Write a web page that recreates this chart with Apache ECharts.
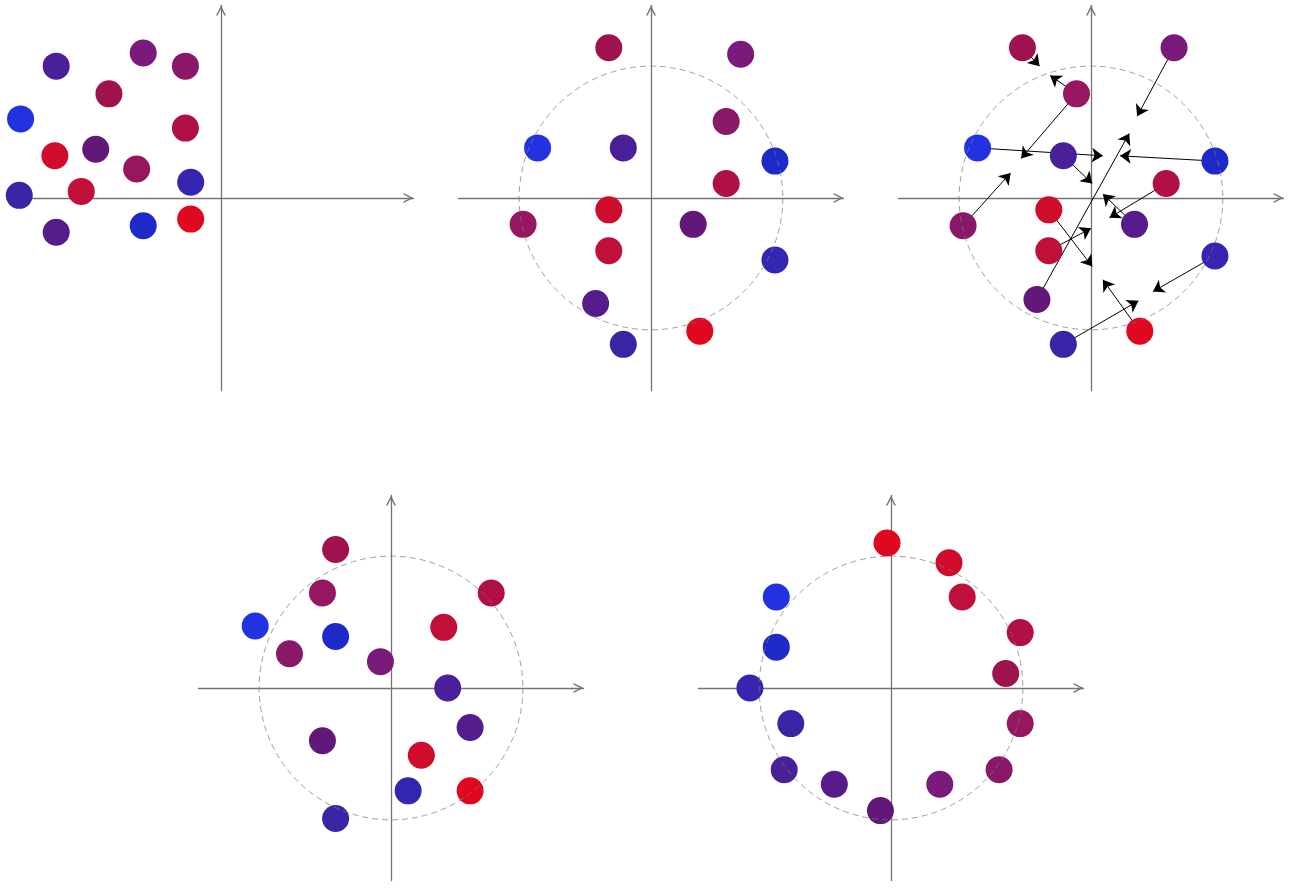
<!DOCTYPE html>
<html>
<head>
<meta charset="utf-8">
<title>points</title>
<script src="https://cdn.jsdelivr.net/npm/echarts@6/dist/echarts.min.js"></script>
<style>
  html, body { margin: 0; padding: 0; background: #fff; }
  #main { width: 1292px; height: 889px; }
</style>
</head>
<body>
<div id="main"></div>
<script>
// 每个点: [x, y, 颜色序号 0(蓝) ~ 14(红)]
var panel1 = [
  [-1.52, 0.60, 0], [-0.59, -0.21, 1], [-0.23, 0.12, 2], [-1.53, 0.02, 3],
  [-1.25, 1.00, 4], [-1.25, -0.26, 5], [-0.95, 0.37, 6], [-0.59, 1.10, 7],
  [-0.27, 1.00, 8], [-0.64, 0.22, 9], [-0.85, 0.79, 10], [-0.27, 0.53, 11],
  [-1.06, 0.05, 12], [-1.26, 0.32, 13], [-0.23, -0.16, 14]
];
var panel2 = [
  [-0.86, 0.38, 0], [0.94, 0.28, 1], [0.94, -0.47, 2], [-0.21, -1.11, 3],
  [-0.21, 0.38, 4], [-0.42, -0.80, 5], [0.32, -0.20, 6], [0.68, 1.09, 7],
  [0.57, 0.58, 8], [-0.97, -0.20, 9], [-0.32, 1.14, 10], [0.57, 0.11, 11],
  [-0.32, -0.40, 12], [-0.32, -0.09, 13], [0.37, -1.01, 14]
];
var panel3 = [
  [-0.86, 0.38, 0], [0.94, 0.28, 1], [0.94, -0.44, 2], [-0.21, -1.11, 3],
  [-0.21, 0.32, 4], [0.33, -0.20, 5], [-0.41, -0.77, 6], [0.63, 1.14, 7],
  [-0.97, -0.21, 8], [-0.11, 0.79, 9], [-0.52, 1.14, 10], [0.57, 0.11, 11],
  [-0.32, -0.40, 12], [-0.32, -0.09, 13], [0.37, -1.01, 14]
];
var panel4 = [
  [-1.03, 0.47, 0], [-0.42, 0.39, 1], [0.13, -0.78, 2], [-0.42, -0.99, 3],
  [0.43, 0.00, 4], [0.60, -0.30, 5], [-0.52, -0.40, 6], [-0.08, 0.20, 7],
  [-0.77, 0.26, 8], [-0.52, 0.72, 9], [-0.42, 1.05, 10], [0.76, 0.72, 11],
  [0.40, 0.46, 12], [0.23, -0.51, 13], [0.60, -0.78, 14]
];
var panel5 = [
  [-0.87, 0.69, 0], [-0.87, 0.31, 1], [-1.07, 0.00, 2], [-0.76, -0.27, 3],
  [-0.81, -0.62, 4], [-0.43, -0.73, 5], [-0.08, -0.93, 6], [0.37, -0.73, 7],
  [0.82, -0.62, 8], [0.98, -0.27, 9], [0.87, 0.11, 10], [0.98, 0.42, 11],
  [0.54, 0.69, 12], [0.44, 0.95, 13], [-0.03, 1.10, 14]
];
// 第三幅图里的箭头: [起点, 终点]
var arrows3 = [
  [[-0.52, 1.14], [-0.39, 1.00]],
  [[-0.11, 0.79], [-0.31, 0.93]],
  [[-0.11, 0.79], [-0.53, 0.30]],
  [[-0.97, -0.21], [-0.61, 0.19]],
  [[0.63, 1.14], [0.35, 0.62]],
  [[-0.41, -0.77], [0.29, 0.49]],
  [[-0.86, 0.38], [0.09, 0.32]],
  [[0.94, 0.28], [0.22, 0.32]],
  [[-0.21, 0.32], [0.01, 0.11]],
  [[0.33, -0.20], [0.09, 0.03]],
  [[0.57, 0.11], [0.14, -0.15]],
  [[-0.32, -0.40], [0.00, -0.23]],
  [[-0.32, -0.09], [0.01, -0.52]],
  [[0.37, -1.01], [0.09, -0.62]],
  [[0.94, -0.44], [0.47, -0.71]],
  [[-0.21, -1.11], [0.36, -0.78]]
];
// 虚线圆: [圆心x, 圆心y, 半径]
var unitCircle = [[0, 0, 1]];
var axisRange = 1.46;

// 颜色从蓝到红
var palette = ['#2232e0', '#1e2ac8', '#3426b0', '#3c24a6', '#4a2098', '#561c8c', '#621878',
  '#7a1a7a', '#8a1868', '#961660', '#a0124e', '#b01044', '#c00f38', '#d00c2c', '#e00820'];

(function () {
  var myChart = echarts.init(document.getElementById('main'));
  var panels = [panel1, panel2, panel3, panel4, panel5];
  var gridPos = [[28.5, 5.5], [458.5, 5.5], [898.5, 5.5], [198.5, 495.5], [698.5, 495.5]];
  // 开口箭头 >
  var chevron = 'path://M0,10 L5,0 L10,10 L8.4,10 L5,3.2 L1.6,10 Z';

  var grids = [], xAxes = [], yAxes = [], series = [];
  function makeAxis(i) {
    return {
      type: 'value',
      gridIndex: i,
      min: -axisRange,
      max: axisRange,
      axisLine: {
        onZero: true,
        symbol: ['none', chevron],
        symbolSize: [10, 10],
        symbolOffset: [0, -5],
        lineStyle: { color: '#747474', width: 1.3 }
      },
      axisTick: { show: false },
      axisLabel: { show: false },
      splitLine: { show: false }
    };
  }
  panels.forEach(function (data, i) {
    grids.push({ left: gridPos[i][0], top: gridPos[i][1], width: 385, height: 385, outerBoundsMode: 'none' });
    xAxes.push(makeAxis(i));
    yAxes.push(makeAxis(i));
    series.push({
      type: 'scatter',
      xAxisIndex: i,
      yAxisIndex: i,
      data: data,
      symbolSize: 27,
      clip: false,
      silent: true,
      z: 3,
      itemStyle: { opacity: 1 }
    });
  });
  // 虚线圆, 画在点的上面
  for (var i = 1; i < 5; i++) {
    series.push({
      type: 'custom',
      xAxisIndex: i,
      yAxisIndex: i,
      data: unitCircle,
      encode: { x: 0, y: 1 },
      silent: true,
      z: 4,
      renderItem: function (params, api) {
        var c = api.coord([api.value(0), api.value(1)]);
        var r = api.size([api.value(2), 0])[0];
        return {
          type: 'circle',
          shape: { cx: c[0], cy: c[1], r: r },
          style: { fill: 'none', stroke: 'rgba(120,120,120,0.7)', lineWidth: 1, lineDash: [6, 4] }
        };
      }
    });
  }
  // 箭头
  series.push({
    type: 'lines',
    coordinateSystem: 'cartesian2d',
    xAxisIndex: 2,
    yAxisIndex: 2,
    symbol: ['none', 'arrow'],
    symbolSize: [7, 11],
    silent: true,
    z: 2,
    lineStyle: { color: '#000', width: 1, opacity: 1, curveness: 0 },
    data: arrows3.map(function (a) { return { coords: a }; })
  });

  var option = {
    backgroundColor: '#fff',
    animation: false,
    grid: grids,
    xAxis: xAxes,
    yAxis: yAxes,
    visualMap: {
      type: 'continuous',
      show: false,
      min: 0,
      max: 14,
      dimension: 2,
      seriesIndex: [0, 1, 2, 3, 4],
      inRange: { color: palette }
    },
    series: series
  };
  myChart.setOption(option);
})();
</script>
</body>
</html>
